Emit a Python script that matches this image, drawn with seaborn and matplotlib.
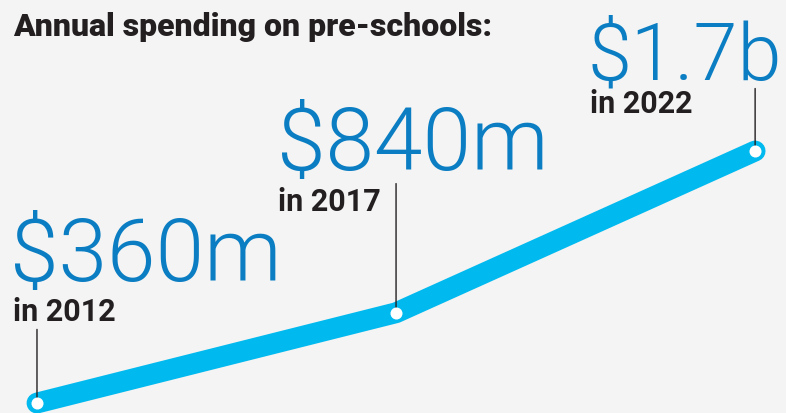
import matplotlib
matplotlib.use("Agg")
import matplotlib.pyplot as plt
import seaborn as sns
import pandas as pd

# data
years = [2012, 2017, 2022]
spending = [360, 840, 1700]          # $ millions
value_labels = ["$360m", "$840m", "$1.7b"]
year_labels = ["in 2012", "in 2017", "in 2022"]

BG = "#f3f4f3"
LINE_BLUE = "#00b9ef"
TEXT_BLUE = "#0a7dc3"
DARK = "#231f20"

sns.set_theme(style="white")
plt.rcParams["font.family"] = ["Roboto", "DejaVu Sans"]

df = pd.DataFrame({"year": years, "spending": spending})

fig = plt.figure(figsize=(7.86, 4.13), dpi=100, facecolor=BG)
ax = fig.add_axes([0, 0, 1, 1], facecolor=BG)

# thick line with round ends
sns.lineplot(data=df, x="year", y="spending", ax=ax, color=LINE_BLUE,
             linewidth=15, solid_capstyle="round", solid_joinstyle="round")
# white dots on each point
ax.scatter(df["year"], df["spending"], s=75, color="white", zorder=5, linewidths=0)

ax.set_xlim(2011.485, 2022.43)
ax.set_ylim(307, 2503)
ax.set_axis_off()

# leader lines, length in points above each dot
lead_len = [53, 93, 45]
for yr, val, ln in zip(years, spending, lead_len):
    ax.annotate("", xy=(yr, val), xytext=(0, ln), textcoords="offset points",
                arrowprops=dict(arrowstyle="-", color=DARK, lw=1.0,
                                shrinkA=0, shrinkB=0), zorder=4)

# big values and year labels (figure pixel positions)
W, H = 786, 413
big_pos = [(10, 281), (277, 170), (588, 79)]
big_size = [63, 63, 57]
small_pos = [(13, 321), (278, 211), (590, 113)]
for lab, (px, py), fs in zip(value_labels, big_pos, big_size):
    fig.text(px / W, 1 - py / H, lab, fontsize=fs, fontweight=300,
             color=TEXT_BLUE, ha="left", va="baseline")
for lab, (px, py) in zip(year_labels, small_pos):
    fig.text(px / W, 1 - py / H, lab, fontsize=22, fontweight="bold",
             color=DARK, ha="left", va="baseline")

fig.text(13 / W, 1 - 36 / H, "Annual spending on pre-schools:", fontsize=23,
         fontweight="heavy", color=DARK, ha="left", va="baseline")

fig.savefig("out.png", dpi=100, facecolor=BG)
